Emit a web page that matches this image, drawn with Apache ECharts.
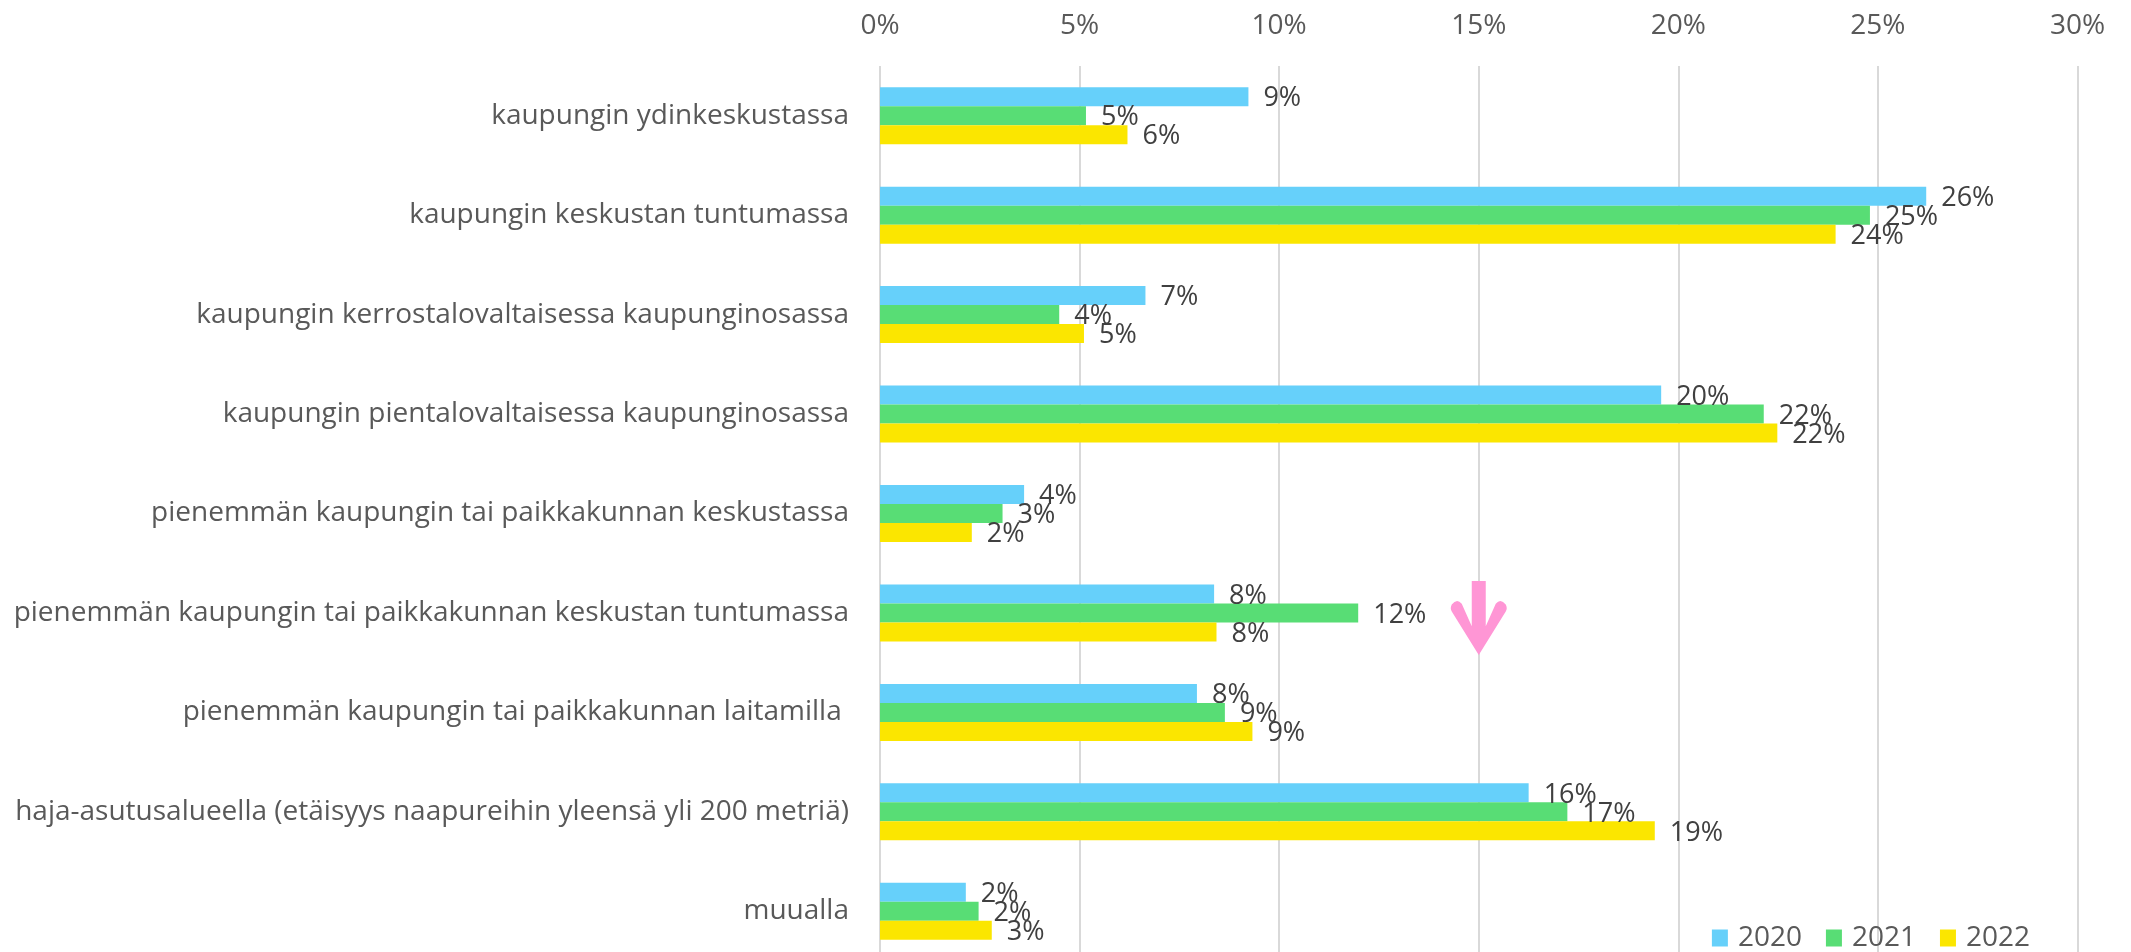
<!DOCTYPE html>
<html>
<head>
<meta charset="utf-8">
<script src="https://cdn.jsdelivr.net/npm/echarts@6/dist/echarts.min.js"></script>
<style>
html,body{margin:0;padding:0;background:#fff;}
#chart{width:2131px;height:952px;}
</style>
</head>
<body>
<div id="chart"></div>
<script>
const categories = [
  "kaupungin ydinkeskustassa",
  "kaupungin keskustan tuntumassa",
  "kaupungin kerrostalovaltaisessa kaupunginosassa",
  "kaupungin pientalovaltaisessa kaupunginosassa",
  "pienemmän kaupungin tai paikkakunnan keskustassa",
  "pienemmän kaupungin tai paikkakunnan keskustan tuntumassa",
  "pienemmän kaupungin tai paikkakunnan laitamilla ",
  "haja-asutusalueella (etäisyys naapureihin yleensä yli 200 metriä)",
  "muualla"
];
const years = ["2020", "2021", "2022"];
const values2020 = [9.23, 26.21, 6.65, 19.57, 3.61, 8.37, 7.94, 16.25, 2.15];
const values2021 = [5.16, 24.80, 4.49, 22.14, 3.07, 11.98, 8.64, 17.22, 2.47];
const values2022 = [6.20, 23.94, 5.11, 22.48, 2.30, 8.43, 9.33, 19.41, 2.80];
const xTicks = [0, 5, 10, 15, 20, 25, 30];
const arrowMark = { value: 15, category: 5 };

const colors = ["#66d0fa", "#58dd75", "#fbe600"];
const FONT = "Open Sans";
const seriesValues = [values2020, values2021, values2022];

const chart = echarts.init(document.getElementById('chart'));
const series = years.map((y, i) => {
  const s = {
    name: y,
    type: 'bar',
    data: seriesValues[i],
    barWidth: 19,
    barGap: '0%',
    itemStyle: { color: colors[i] },
    label: {
      show: true,
      position: 'right',
      distance: 15,
      offset: [0, 2],
      color: '#404040',
      fontFamily: FONT,
      fontSize: 27,
      formatter: p => Math.round(p.value) + '%'
    },
    emphasis: { disabled: true }
  };
  if (i === 2) {
    s.markPoint = {
      silent: true,
      symbol: 'path://M22,0 L36,0 L36,46 L46,23 Q51,17 56,24 Q58,28 56,31 L29,75 L2,31 Q0,28 2,24 Q7,17 12,23 L22,46 Z',
      symbolSize: [56, 74],
      symbolOffset: [0, -14],
      itemStyle: { color: '#ff96d5' },
      label: { show: false },
      data: [{ coord: [arrowMark.value, arrowMark.category] }]
    };
  }
  return s;
});

chart.setOption({
  animation: false,
  backgroundColor: '#fff',
  legend: {
    data: years,
    right: 96,
    top: 919,
    itemWidth: 16,
    itemHeight: 17,
    itemGap: 24,
    icon: 'rect',
    textStyle: { fontFamily: FONT, fontSize: 28, color: '#595959', padding: [0, 0, 0, 5] }
  },
  grid: { left: 880, top: 66, width: 1197.5, height: 895, outerBoundsMode: 'none', containLabel: false },
  xAxis: {
    type: 'value',
    position: 'top',
    min: 0,
    max: 30,
    interval: 5,
    axisLine: { show: false },
    axisTick: { show: false },
    splitLine: { show: true, lineStyle: { color: '#d9d9d9', width: 2 } },
    axisLabel: {
      margin: 26,
      color: '#595959',
      fontFamily: FONT,
      fontSize: 28,
      formatter: v => (xTicks.includes(v) ? v + '%' : '')
    }
  },
  yAxis: {
    type: 'category',
    data: categories,
    inverse: true,
    axisLine: { show: false },
    axisTick: { show: false },
    axisLabel: {
      margin: 31,
      color: '#595959',
      fontFamily: FONT,
      fontSize: 28
    }
  },
  series: series
});
</script>
</body>
</html>
